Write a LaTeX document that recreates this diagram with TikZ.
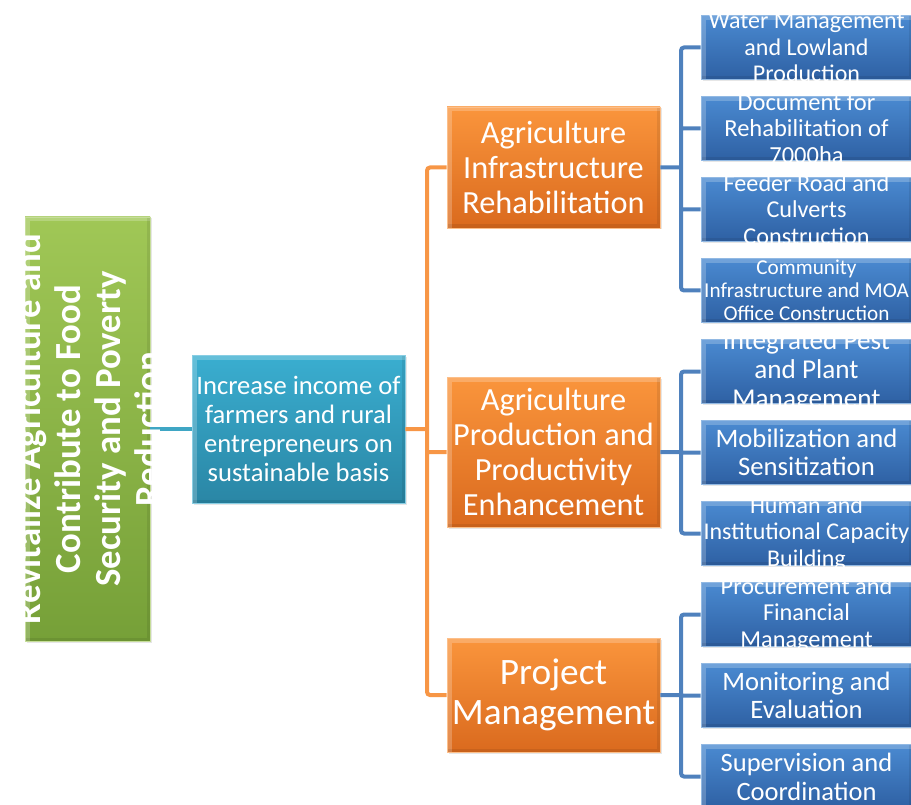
\documentclass[tikz,border=0pt]{standalone}
\usepackage{fontspec}
\setmainfont{Carlito}
\usetikzlibrary{calc,shadows}

\definecolor{goaltop}{HTML}{A0C756}
\definecolor{goalbot}{HTML}{76A038}
\definecolor{purptop}{HTML}{3AAED0}
\definecolor{purpbot}{HTML}{2A86A5}
\definecolor{comptop}{HTML}{FA953C}
\definecolor{compbot}{HTML}{DA6A1E}
\definecolor{acttop}{HTML}{4A8AD1}
\definecolor{actbot}{HTML}{2E60A3}
\definecolor{orangeline}{HTML}{F79646}
\definecolor{blueline}{HTML}{4F81BD}
\definecolor{tealline}{HTML}{3FA6C4}

\begin{document}
\begin{tikzpicture}[x=1pt, y=-1pt,
    every node/.append style={text=white, align=center, inner sep=0pt},
    bevel/.style={draw=#1, line width=0.8pt, drop shadow={opacity=0.2, shadow xshift=1.5pt, shadow yshift=-1.5pt},
        path picture={
            \draw[white, opacity=0.22, line width=9pt]
                (path picture bounding box.south west) -- (path picture bounding box.north west) -- (path picture bounding box.north east);
            \draw[black, opacity=0.08, line width=7pt]
                (path picture bounding box.north east) -- (path picture bounding box.south east) -- (path picture bounding box.south west);
        }},
    goalbox/.style={bevel=goaltop!60!white, top color=goaltop, bottom color=goalbot, minimum width=125pt, minimum height=424pt},
    purposebox/.style={bevel=purptop!60!white, top color=purptop, bottom color=purpbot, minimum width=213pt, minimum height=148pt, font=\fontsize{26.6}{29}\selectfont},
    compbox/.style={bevel=comptop!60!white, top color=comptop, bottom color=compbot, minimum width=213pt, minimum height=#1, font=\fontsize{32.3}{35}\selectfont},
    actbox/.style={bevel=acttop!60!white, top color=acttop, bottom color=actbot, minimum width=211pt, minimum height=64pt},
    link/.style={line width=4pt, rounded corners=3pt, draw=#1}
]

    \def\dy{81}     % distance between two activity boxes
    \useasboundingbox (0,0) rectangle (911,805);

    \coordinate (obus) at (427,0);      % orange vertical line
    \coordinate (abus) at (681,0);      % blue vertical lines

    % goal and purpose
    \node[goalbox] (goal) at (87.5,429) {};
    \node[purposebox] (purpose) at (298.5,429)
        {Increase income of\\farmers and rural\\entrepreneurs on\\sustainable basis};
    \draw[link=tealline] (goal.east) -- (purpose.west);
    \node[rotate=90, font=\bfseries\fontsize{36.8}{40}\selectfont] (goaltxt) at (goal.center)
        {Revitalize Agriculture and\\Contribute to Food\\Security and Poverty\\Reduction};

    % components
    \node[compbox=121pt] (infra) at (553.5,167.5) {Agriculture\\Infrastructure\\Rehabilitation};
    \node[compbox=150pt] (prod) at (553.5,452) {Agriculture\\Production and\\Productivity\\Enhancement};
    \node[compbox=114pt, font=\fontsize{37.3}{40}\selectfont] (pm) at (553.5,695) {Project\\Management};

    % activities
    \foreach \fs/\bs/\txt [count=\n] in {
        24/26.5/{Water Management\\and Lowland\\Production},
        24.5/26.5/{Document for\\Rehabilitation of\\7000ha},
        24.2/26.5/{Feeder Road and\\Culverts\\Construction},
        21.2/23/{Community\\Infrastructure and MOA\\Office Construction},
        27.2/29/{Integrated Pest\\and Plant\\Management},
        26.7/28/{Mobilization and\\Sensitization},
        24/26.5/{Human and\\Institutional Capacity\\Building},
        24.3/26.5/{Procurement and\\Financial\\Management},
        26.6/28/{Monitoring and\\Evaluation},
        26.5/29/{Supervision and\\Coordination}}
    {
        \node[actbox] (a\n) at (806.5, 47.5+\dy*\n-\dy) {};
        \node[font=\fontsize{\fs}{\bs}\selectfont] (t\n) at (a\n.center) {\txt};
    }

    % connectors
    \draw[link=orangeline]
        (infra.west) -| (obus |- pm.west) -- (pm.west)
        (purpose.east) -- (purpose.east -| obus)
        (prod.west) -- (prod.west -| obus)
    ;

    \draw[link=blueline]
        (a1.west) -| (abus |- a4.west) -- (a4.west)
        (a2.west) -- (a2.west -| abus)
        (a3.west) -- (a3.west -| abus)
        (infra.east) -- (infra.east -| abus)
        (a5.west) -| (abus |- a7.west) -- (a7.west)
        (a6.west) -- (a6.west -| abus)
        (prod.east) -- (prod.east -| abus)
        (a8.west) -| (abus |- a10.west) -- (a10.west)
        (a9.west) -- (a9.west -| abus)
        (pm.east) -- (pm.east -| abus)
    ;

\end{tikzpicture}
\end{document}
